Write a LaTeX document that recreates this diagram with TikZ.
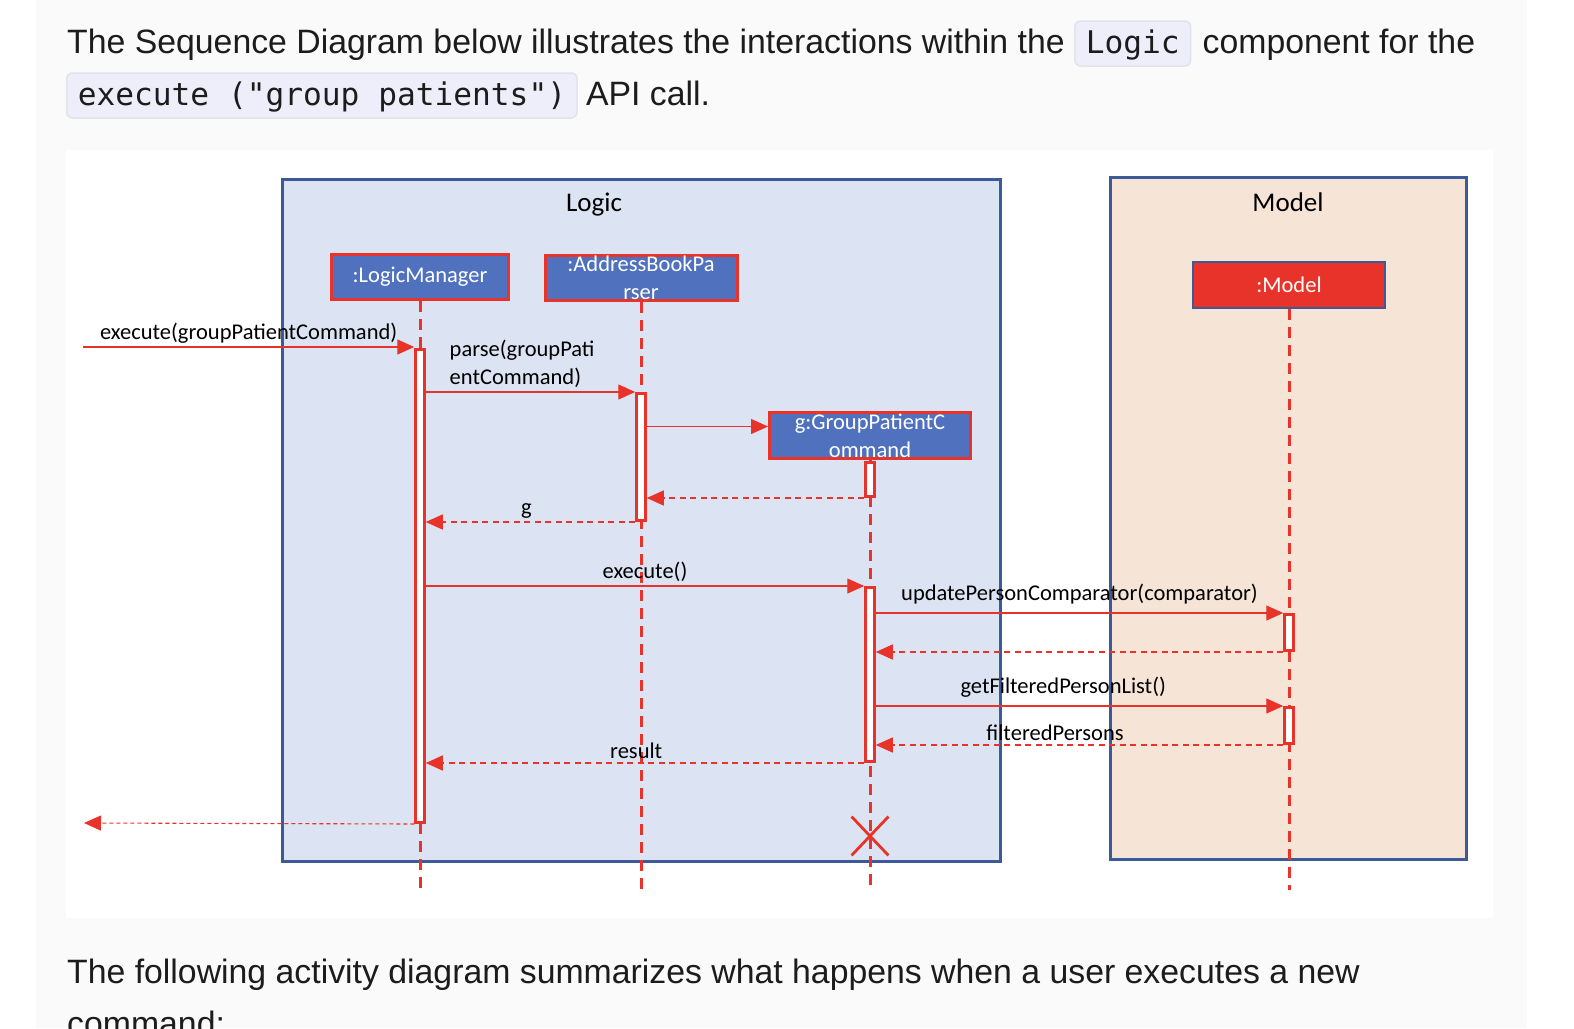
\documentclass[tikz,border=0pt]{standalone}
\usepackage{fontspec}
\setmainfont{Liberation Sans}
\newfontfamily\diafont{Carlito}
\newfontfamily\codefont{DejaVu Sans Mono}
\usetikzlibrary{arrows.meta,shapes.misc,positioning}

\definecolor{pagegray}{HTML}{FAFAFA}
\definecolor{logicfill}{HTML}{DCE3F2}
\definecolor{modelfill}{HTML}{F6E4D6}
\definecolor{frameblue}{HTML}{3D5A98}
\definecolor{objblue}{HTML}{4F71BE}
\definecolor{seqred}{HTML}{E8332A}
\definecolor{chipfill}{HTML}{EEEEFB}
\definecolor{chipline}{HTML}{E2E2EA}
\definecolor{inkblack}{HTML}{1C1C1C}

\tikzset{
  frame/.style={draw=frameblue, line width=3pt},
  ttl/.style={font=\diafont\fontsize{27}{32}\selectfont, text=black},
  obj/.style={draw=seqred, fill=objblue, line width=3pt, text=white,
    font=\diafont\fontsize{22.5}{28}\selectfont, align=center, inner sep=0pt},
  act/.style={draw=seqred, fill=white, line width=3pt, minimum width=8.5pt,
    inner sep=0pt, anchor=north},
  life/.style={seqred, line width=3pt, dash pattern=on 11pt off 7pt},
  msg/.style={seqred, line width=1.3pt, -{Triangle[length=17pt,width=15pt]}},
  ret/.style={msg, dash pattern=on 6pt off 4.5pt},
  lbl/.style={font=\diafont\fontsize{22.5}{28}\selectfont, text=black},
  body/.style={font=\fontsize{33.8}{40}\selectfont, text=inkblack, inner sep=0pt, anchor=base west},
  chip/.style={font=\codefont\fontsize{31.2}{36}\selectfont, text=inkblack, fill=chipfill,
    draw=chipline, line width=1.5pt, rounded corners=6pt, inner xsep=11pt,
    text height=24pt, text depth=5pt, minimum height=45pt}
}

\begin{document}
\begin{tikzpicture}[x=1pt, y=-1pt]
    \useasboundingbox (0,0) rectangle (1574,1028);
    \clip (0,0) rectangle (1574,1028);
    % page
    \fill[white] (0,0) rectangle (1574,1028);
    \fill[pagegray] (36,0) rectangle (1527,1028);
    \fill[white] (66,150) rectangle (1493,918);

    % text above
    \node[body] (t1) at (67,53) {The Sequence Diagram below illustrates the interactions within the};
    \node[chip, anchor=west] (c1) at ([xshift=9pt]t1.east |- 0,43.5) {Logic};
    \node[body] (t2) at ([xshift=11pt]c1.east |- t1.base) {component for the};
    \node[chip, anchor=west] (c2) at (66,95.5) {execute ("group patients")};
    \node[body] (t3) at ([xshift=8pt]c2.east |- 0,105) {API call.};

    % frames
    \draw[frame, fill=logicfill] (282,179) rectangle (1000,861);
    \draw[frame, fill=modelfill] (1110,177) rectangle (1466,859);
    \node[ttl] (logicT) at (594,205) {Logic};
    \node[ttl] (modelT) at (1288,202) {Model};

    % participants
    \node[obj, minimum width=177pt, minimum height=45pt] (lm) at (420,277) {:LogicManager};
    \node[obj, minimum width=192pt, minimum height=45pt] (abp) at (641,278) {:AddressBookPa\\rser};
    \node[obj, minimum width=201pt, minimum height=46pt] (gcmd) at (870,435.5) {g:GroupPatientC\\ommand};
    \node[obj, draw=frameblue, fill=seqred, line width=2.5pt, minimum width=192pt,
      minimum height=46pt] (model) at (1289,285) {:Model};

    % lifelines
    \draw[life] (lm.south) -- (lm.south |- 0,890);
    \draw[life] (abp.south) -- (abp.south |- 0,890);
    \draw[life] (gcmd.south) -- (gcmd.south |- 0,890);
    \draw[life] (model.south) -- (model.south |- 0,890);

    % activations
    \node[act, minimum height=473pt] (lmA) at (420,348) {};
    \node[act, minimum height=127pt] (abpA) at (641,392) {};
    \node[act, minimum height=34pt] (gA1) at (870,461) {};
    \node[act, minimum height=174pt] (gA2) at (870,586) {};
    \node[act, minimum height=36pt] (mA1) at (1289,613) {};
    \node[act, minimum height=36pt] (mA2) at (1289,706) {};

    % destroy
    \node[cross out, draw=seqred, line width=2.8pt, minimum width=34pt, minimum height=36pt,
      inner sep=0pt] (gx) at (870,836) {};

    % messages
    \coordinate (inStart) at (83,347);
    \coordinate (outEnd) at (84,823);
    \draw[msg] (inStart) -- (inStart -| lmA.west)
      node[lbl, midway, above] {execute(groupPatientCommand)};
    \draw[msg] (lmA.east |- abpA.north) -- (abpA.north west)
      node[lbl, pos=0.46, above, align=left] {parse(groupPati\\entCommand)};
    \draw[msg] ([yshift=9pt]abpA.east |- gcmd.west) -- ([yshift=9pt]gcmd.west);
    \draw[ret] (gA1.south west) -- (abpA.east |- gA1.south);
    \draw[ret] (abpA.south west) -- (lmA.east |- abpA.south)
      node[lbl, pos=0.52, above] {g};
    \draw[msg] (lmA.east |- gA2.north) -- (gA2.north west)
      node[lbl, midway, above] {execute()};
    \draw[msg] (gA2.east |- mA1.north) -- (mA1.north west)
      node[lbl, midway, above=5pt] {updatePersonComparator(comparator)};
    \draw[ret] (mA1.south west) -- (gA2.east |- mA1.south);
    \draw[msg] (gA2.east |- mA2.north) -- (mA2.north west)
      node[lbl, pos=0.46, above=5pt] {getFilteredPersonList()};
    \draw[ret] (mA2.south west) -- (gA2.east |- mA2.south)
      node[lbl, pos=0.56, above] {filteredPersons};
    \draw[ret] (gA2.south west) -- (lmA.east |- gA2.south)
      node[lbl, pos=0.52, above] {result};
    \draw[ret, line width=1.1pt, dash pattern=on 4pt off 3pt] (lmA.south west) -- (outEnd);

    % text below
    \node[body] (t4) at (67,983) {The following activity diagram summarizes what happens when a user executes a new};
    \node[body] (t5) at (67,1035) {command:};
\end{tikzpicture}
\end{document}
